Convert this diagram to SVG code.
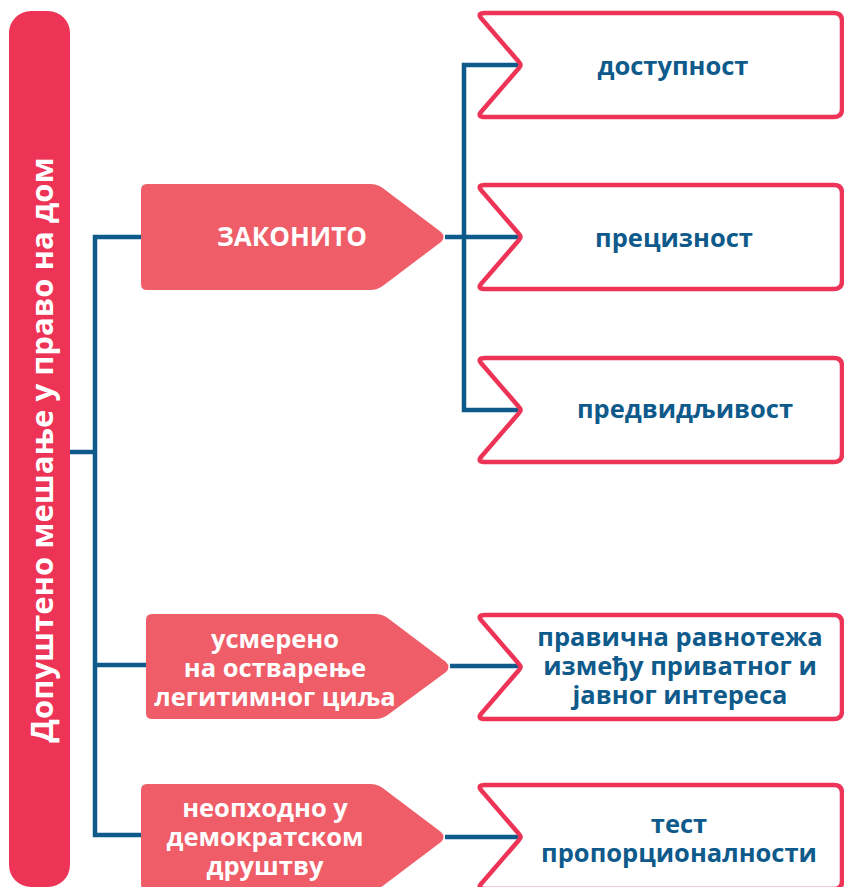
<svg xmlns="http://www.w3.org/2000/svg" width="844" height="887" viewBox="0 0 844 887">
<style>
.bar{fill:#EE3456}
.tag{fill:#EF5D69}
.box{fill:#fff;stroke:#EE3456;stroke-width:4.5;stroke-linejoin:round}
.con{fill:none;stroke:#0E5A8B;stroke-width:4.5;stroke-linejoin:miter}
.wt{font-family:"Open Sans","Noto Sans","DejaVu Sans",sans-serif;font-weight:700;fill:#fff;text-anchor:middle}
.bt{font-family:"Open Sans","Noto Sans","DejaVu Sans",sans-serif;font-weight:700;fill:#0E5A8B;text-anchor:middle;font-size:25.5px}
</style>
<rect width="844" height="887" fill="#fff"/>
<g id="connectors">
<path class="con" d="M70,452 H95"/>
<path class="con" d="M141,237 H95 V835 H141"/>
<path class="con" d="M95,665 H146"/>
<path class="con" d="M445,237 H522"/>
<path class="con" d="M522,65 H464 V410 H522"/>
<path class="con" d="M450,666 H522"/>
<path class="con" d="M445,837 H522"/>
</g>
<g id="root">
<rect class="bar" x="9" y="11" width="61" height="876" rx="22"/>
<text class="wt" font-size="31" transform="translate(53,450) rotate(-90)">Допуштено мешање у право на дом</text>
</g>
<g id="zakonito">
<path class="tag" d="M147,184 H370 Q378,184 384,189 L441,232 Q446,237 441,242 L384,285 Q378,290 370,290 H147 Q141,290 141,284 V190 Q141,184 147,184 Z"/>
<text class="wt" font-size="26" x="292" y="246">ЗАКОНИТО</text>
</g>
<g id="usmereno">
<path class="tag" d="M152,614 H375 Q383,614 389,619 L446,662 Q451,667 446,672 L389,714 Q383,719 375,719 H152 Q146,719 146,713 V620 Q146,614 152,614 Z"/>
<text class="wt" font-size="25.5" x="275" y="648">усмерено</text>
<text class="wt" font-size="25.5" x="275" y="677">на остварење</text>
<text class="wt" font-size="25.5" x="275" y="706">легитимног циља</text>
</g>
<g id="neophodno">
<path class="tag" d="M147,784 H370 Q378,784 384,789 L441,832 Q446,837 441,842 L384,885 Q378,890 370,890 H147 Q141,890 141,884 V790 Q141,784 147,784 Z"/>
<text class="wt" font-size="25.5" x="265" y="817">неопходно у</text>
<text class="wt" font-size="25.5" x="265" y="846">демократском</text>
<text class="wt" font-size="25.5" x="265" y="875">друштву</text>
</g>
<g id="dostupnost">
<path class="box" d="M485,13 H834 Q842,13 842,21 V109 Q842,117 834,117 H485 Q477,117 481,112 L519,68 Q522,65 519,62 L481,18 Q477,13 485,13 Z"/>
<text class="bt" x="673" y="75">доступност</text>
</g>
<g id="preciznost">
<path class="box" d="M485,185 H834 Q842,185 842,193 V281 Q842,289 834,289 H485 Q477,289 481,284 L519,240 Q522,237 519,234 L481,190 Q477,185 485,185 Z"/>
<text class="bt" x="674" y="247">прецизност</text>
</g>
<g id="predvidljivost">
<path class="box" d="M485,358 H834 Q842,358 842,366 V454 Q842,462 834,462 H485 Q477,462 481,457 L519,413 Q522,410 519,407 L481,363 Q477,358 485,358 Z"/>
<text class="bt" x="685" y="418">предвидљивост</text>
</g>
<g id="ravnoteza">
<path class="box" d="M485,615 H834 Q842,615 842,623 V711 Q842,719 834,719 H485 Q477,719 481,714 L519,670 Q522,667 519,664 L481,620 Q477,615 485,615 Z"/>
<text class="bt" x="680" y="646">правична равнотежа</text>
<text class="bt" x="680" y="675">између приватног и</text>
<text class="bt" x="680" y="704">јавног интереса</text>
</g>
<g id="proporcionalnost">
<path class="box" d="M485,785 H834 Q842,785 842,793 V881 Q842,889 834,889 H485 Q477,889 481,884 L519,840 Q522,837 519,834 L481,790 Q477,785 485,785 Z"/>
<text class="bt" x="679" y="833">тест</text>
<text class="bt" x="679" y="862">пропорционалности</text>
</g>
</svg>
